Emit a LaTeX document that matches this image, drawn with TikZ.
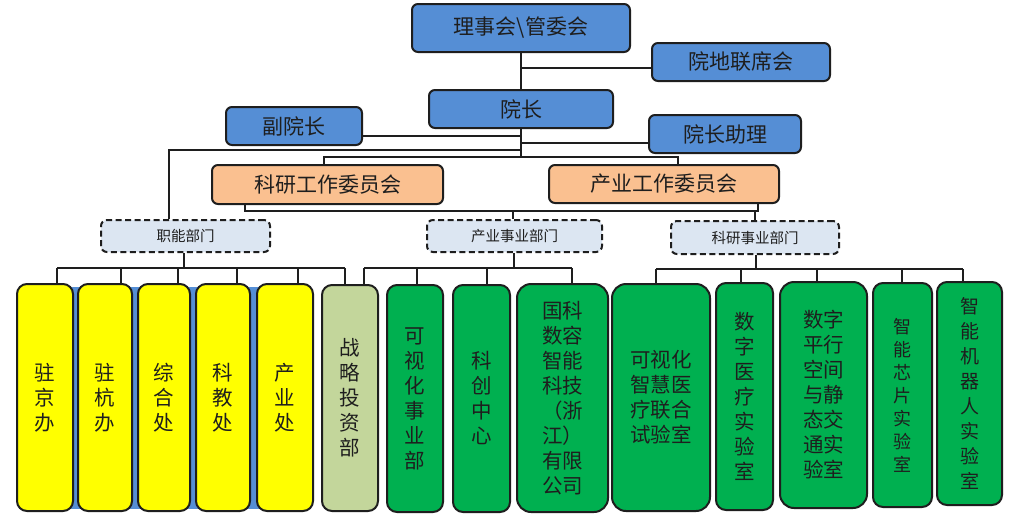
\documentclass[tikz,border=0pt]{standalone}
\usepackage{fontspec}
\newfontfamily\cjk{Noto Sans CJK SC}
\definecolor{topblue}{HTML}{558ED5}
\definecolor{orfill}{HTML}{FAC090}
\definecolor{dfill}{HTML}{DCE6F2}
\definecolor{yel}{HTML}{FFFF00}
\definecolor{olive}{HTML}{C3D69B}
\definecolor{grn}{HTML}{00B050}
\definecolor{ink}{HTML}{1E1E1E}
\tikzset{
  box/.style={draw=ink, line width=2pt, rounded corners=6pt, inner sep=0pt, text=ink,
    font=\cjk\fontsize{21}{24}\selectfont},
  bluebox/.style={box, fill=topblue},
  orbox/.style={box, fill=orfill},
  dbox/.style={draw=ink, line width=2pt, dash pattern=on 6pt off 3.5pt, rounded corners=6pt,
    fill=dfill, inner sep=0pt, text=ink, font=\cjk\fontsize{14.5}{16}\selectfont},
  tallbox/.style={box, rounded corners=10pt, align=center, font=\cjk\fontsize{20.5}{25}\selectfont},
  ybox/.style={tallbox, fill=yel},
  obox/.style={tallbox, fill=olive},
  gbox/.style={tallbox, fill=grn},
  conn/.style={line width=1.3pt, draw=ink},
}
\begin{document}
\begin{tikzpicture}[x=1pt, y=-1pt]
\useasboundingbox[fill=white] (0,0) rectangle (1024,517);

% top level
\node[bluebox, minimum width=218pt, minimum height=48pt] (lsh) at (521,28) {理事会\textbackslash 管委会};
\node[bluebox, minimum width=178pt, minimum height=38pt] (ydl) at (741,62) {院地联席会};
\node[bluebox, minimum width=184pt, minimum height=38pt] (yz) at (521,109) {院长};
\node[bluebox, minimum width=136pt, minimum height=38pt] (fyz) at (294,126) {副院长};
\node[bluebox, minimum width=152pt, minimum height=38pt] (yzzl) at (725,134) {院长助理};
\node[orbox, minimum width=231pt, minimum height=39pt] (kywy) at (327.5,184.5) {科研工作委员会};
\node[orbox, minimum width=230pt, minimum height=38pt] (cywy) at (664,184) {产业工作委员会};
\node[dbox, minimum width=169pt, minimum height=32pt] (znbm) at (185.5,236) {职能部门};
\node[dbox, minimum width=175pt, minimum height=32pt] (cysy) at (514.5,236) {产业事业部门};
\node[dbox, minimum width=168pt, minimum height=33pt] (kysy) at (755,237.5) {科研事业部门};

% blue backing behind yellow boxes
\fill[topblue] (55,287) rectangle (280,509);

% bottom boxes
\node[ybox, minimum width=56pt, minimum height=227pt] (b1) at (45,397.5) {驻\\京\\办};
\node[ybox, minimum width=54pt, minimum height=227pt] (b2) at (105,397.5) {驻\\杭\\办};
\node[ybox, minimum width=52pt, minimum height=227pt] (b3) at (164,397.5) {综\\合\\处};
\node[ybox, minimum width=54pt, minimum height=227pt] (b4) at (223,397.5) {科\\教\\处};
\node[ybox, minimum width=56pt, minimum height=227pt] (b5) at (285,397.5) {产\\业\\处};
\node[obox, minimum width=56pt, minimum height=226pt] (b6) at (350,398) {战\\略\\投\\资\\部};
\node[gbox, minimum width=56pt, minimum height=227pt] (g1) at (415,398.5) {可\\视\\化\\事\\业\\部};
\node[gbox, minimum width=57pt, minimum height=227pt] (g2) at (481.5,398.5) {科\\创\\中\\心};
\node[gbox, rounded corners=14pt, minimum width=91pt, minimum height=228pt] (g3) at (562.5,398) {国科\\数容\\智能\\科技\\（浙\\江）\\有限\\公司};
\node[gbox, rounded corners=14pt, minimum width=98pt, minimum height=227pt] (g4) at (661,397.5) {可视化\\智慧医\\疗联合\\试验室};
\node[gbox, minimum width=57pt, minimum height=227pt] (g5) at (744.5,396.5) {数\\字\\医\\疗\\实\\验\\室};
\node[gbox, rounded corners=14pt, minimum width=87pt, minimum height=226pt] (g6) at (823.5,395) {数字\\平行\\空间\\与静\\态交\\通实\\验室};
\node[gbox, minimum width=59pt, minimum height=224pt, font=\cjk\fontsize{18}{23}\selectfont] (g7) at (902.5,395) {智\\能\\芯\\片\\实\\验\\室};
\node[gbox, minimum width=65pt, minimum height=223pt, font=\cjk\fontsize{19}{25}\selectfont] (g8) at (969.5,393.5) {智\\能\\机\\器\\人\\实\\验\\室};

% top connectors
\draw[conn] (lsh.south) -- (yz.north);
\draw[conn] (lsh.south |- 0,68) -- (ydl.west |- 0,68);
\draw[conn] (yz.south) -- (yz.south |- 0,157);
\draw[conn] ([yshift=-10pt]fyz.east) -- ([yshift=-10pt]fyz.east -| yz.south);
\draw[conn] ([yshift=-9pt]yzzl.west) -- ([yshift=-9pt]yzzl.west -| yz.south);
\draw[conn] (yz.south |- 0,150) -| ([xshift=-16.5pt]znbm.north);
\draw[conn] ([xshift=-3.5pt]kywy.north) |- ([xshift=14pt]cywy.north |- 0,157) -- ([xshift=14pt]cywy.north);
\draw[conn] ([xshift=-82.5pt]kywy.south) |- ([xshift=94pt]cywy.south |- 0,211) -- ([xshift=94pt]cywy.south);
\draw[conn] ([xshift=-1.5pt]cysy.north) -- ([xshift=-1.5pt]cysy.north |- 0,211);
\draw[conn] (kysy.north) -- (kysy.north |- 0,211);

% buses
\coordinate (zb) at (0,268);
\coordinate (cb) at (0,268);
\coordinate (kb) at (0,269);

\draw[conn] ([xshift=-1.5pt]znbm.south) -- ([xshift=-1.5pt]znbm.south |- zb);
\draw[conn] ([xshift=12pt]b1.north |- zb) -- ([xshift=-5pt]b6.north |- zb);
\foreach \n/\d in {b1/12,b2/16,b3/14,b4/14,b5/13,b6/-5}
  \draw[conn] ([xshift=\d pt]\n.north) -- ([xshift=\d pt]\n.north |- zb);

\draw[conn] ([xshift=-0.5pt]cysy.south) -- ([xshift=-0.5pt]cysy.south |- cb);
\draw[conn] ([xshift=14pt]b6.north |- cb) -- ([xshift=9.5pt]g3.north |- cb);
\foreach \n/\d in {b6/14,g1/2,g2/5.5,g3/9.5}
  \draw[conn] ([xshift=\d pt]\n.north) -- ([xshift=\d pt]\n.north |- cb);

\draw[conn] ([xshift=1pt]kysy.south) -- ([xshift=1pt]kysy.south |- kb);
\draw[conn] ([xshift=-5pt]g4.north |- kb) -- ([xshift=-6.5pt]g8.north |- kb);
\foreach \n/\d in {g4/-5,g5/-3.5,g6/-6.5,g7/-0.5,g8/-6.5}
  \draw[conn] ([xshift=\d pt]\n.north) -- ([xshift=\d pt]\n.north |- kb);
\end{tikzpicture}
\end{document}
